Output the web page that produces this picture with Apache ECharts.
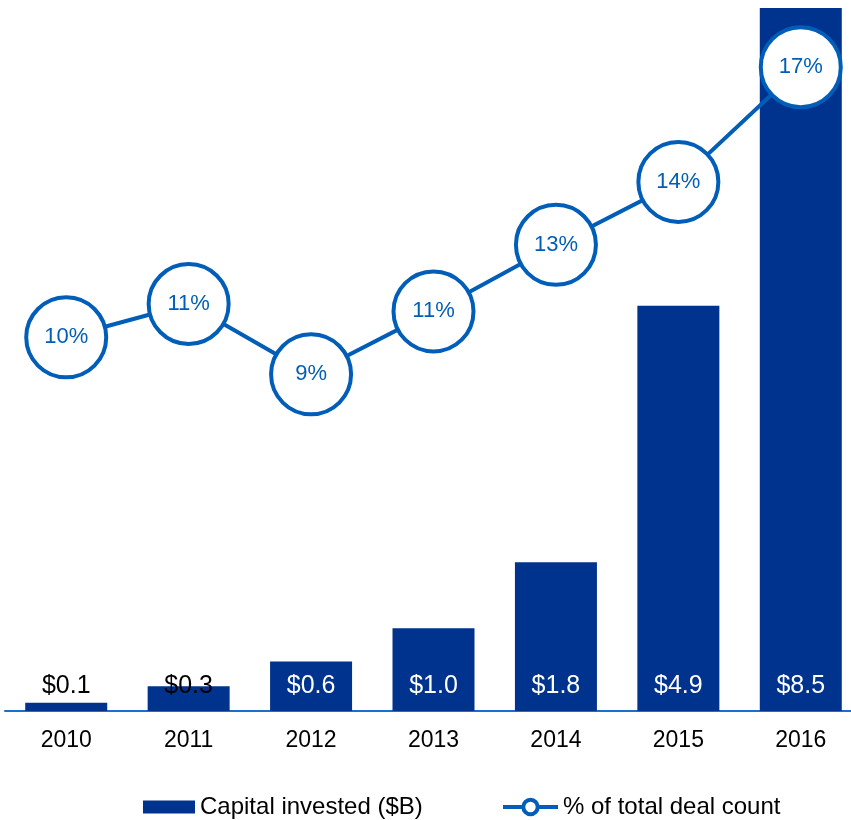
<!DOCTYPE html>
<html>
<head>
<meta charset="utf-8">
<script src="https://cdn.jsdelivr.net/npm/echarts@6/dist/echarts.min.js"></script>
<style>
  html, body { margin: 0; padding: 0; background: #fff; }
  #chart { width: 851px; height: 820px; }
</style>
</head>
<body>
<div id="chart"></div>
<script>
const years = ['2010', '2011', '2012', '2013', '2014', '2015', '2016']
const capital = [0.1, 0.3, 0.6, 1.0, 1.8, 4.9, 8.5]
const dealShare = [10.1, 11.0, 9.1, 10.8, 12.6, 14.3, 17.4]

const navy = '#00338d'
const blue = '#005eb8'
const font = 'Liberation Sans, Arial, sans-serif'

const chart = echarts.init(document.getElementById('chart'))
chart.setOption({
  animation: false,
  textStyle: { fontFamily: font },
  // plot runs a little past the right edge, as in the source
  grid: { left: 5, width: 857, top: 8, bottom: 109, outerBoundsMode: 'none', containLabel: false },
  legend: [
    {
      left: 138, top: 790, itemWidth: 52, itemHeight: 13, itemGap: 0,
      textStyle: { fontSize: 24, color: '#000', fontFamily: font },
      data: [{ name: 'Capital invested ($B)', icon: 'rect' }]
    },
    {
      left: 496, top: 790, itemWidth: 55, itemHeight: 18,
      textStyle: { fontSize: 24, color: '#000', fontFamily: font },
      lineStyle: { width: 4 },
      itemStyle: { borderWidth: 4 },
      data: ['% of total deal count']
    }
  ],
  xAxis: {
    type: 'category',
    data: years,
    axisLine: { lineStyle: { color: '#1a6fd0', width: 2 } },
    axisTick: { show: false },
    axisLabel: { color: '#000', fontSize: 23, margin: 18, fontFamily: font }
  },
  yAxis: [
    { type: 'value', min: 0, max: 8.5, show: false, splitLine: { show: false } },
    { type: 'value', min: 0, max: 19, show: false, splitLine: { show: false } }
  ],
  series: [
    {
      name: 'Capital invested ($B)',
      type: 'bar',
      barWidth: 82,
      itemStyle: { color: navy },
      data: capital.map((v, i) => ({
        value: v,
        label: { color: i < 2 ? '#000' : '#fff' }
      })),
      label: {
        show: true,
        position: 'insideBottom',
        distance: 12,
        fontSize: 25,
        fontFamily: font,
        formatter: (p) => '$' + p.value.toFixed(1)
      }
    },
    {
      name: '% of total deal count',
      type: 'line',
      yAxisIndex: 1,
      data: dealShare,
      symbol: 'circle',
      symbolSize: 80,
      z: 5,
      lineStyle: { color: blue, width: 4 },
      itemStyle: { color: '#fff', borderColor: blue, borderWidth: 4 },
      label: {
        show: true,
        position: 'inside',
        color: blue,
        fontSize: 22,
        fontFamily: font,
        formatter: (p) => Math.round(p.value) + '%'
      }
    }
  ]
})
</script>
</body>
</html>
